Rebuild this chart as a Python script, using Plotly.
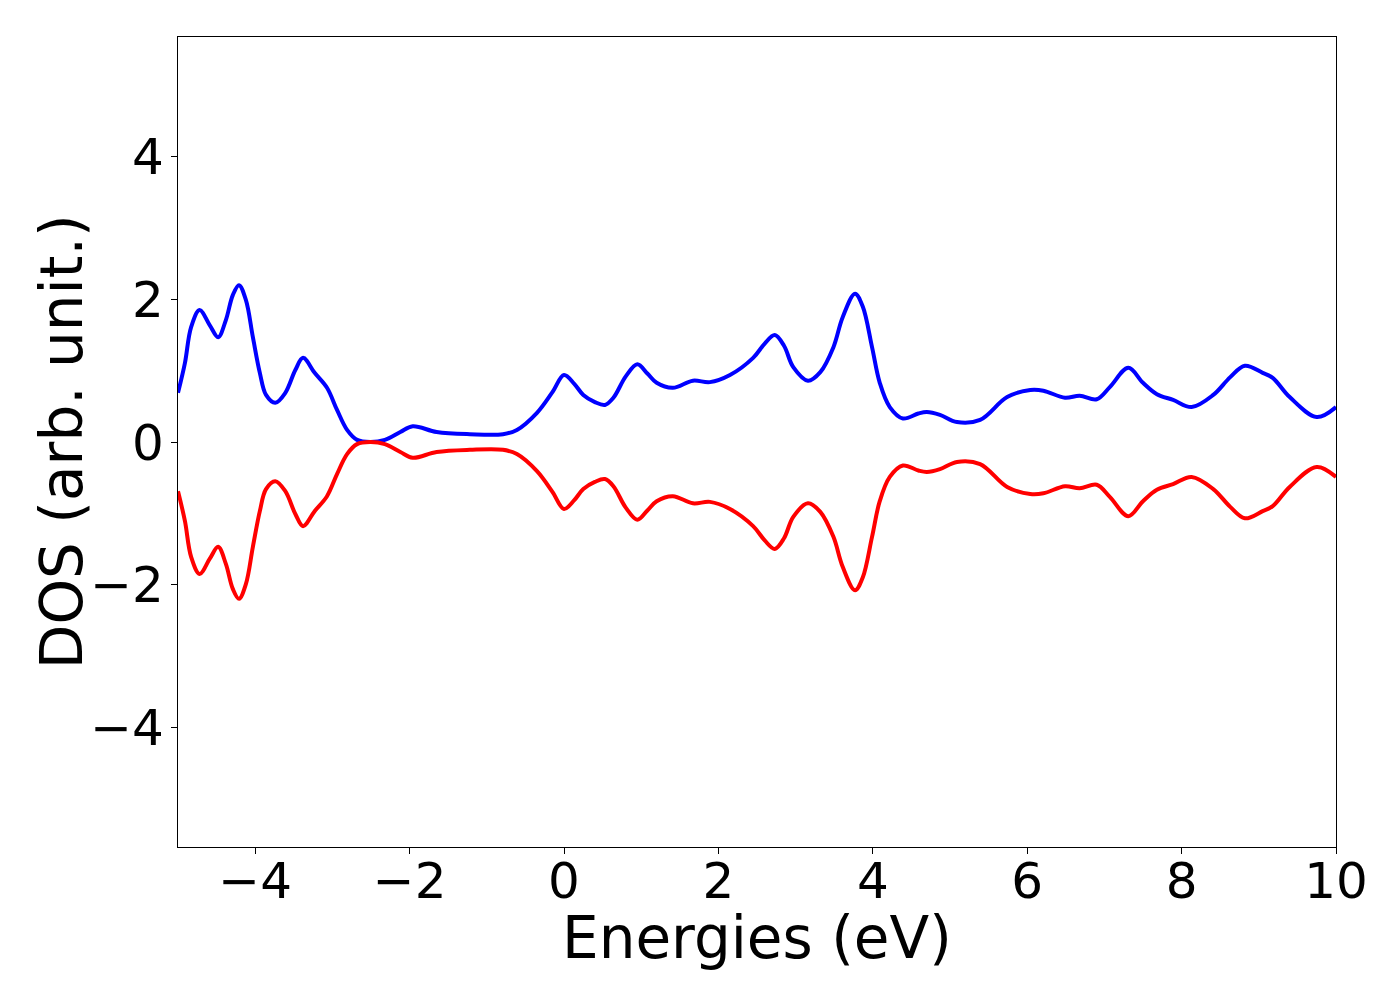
import plotly.graph_objects as go

energies = [-5.0, -4.91, -4.83, -4.72, -4.59, -4.48, -4.38, -4.29, -4.21, -4.12, -4.03, -3.94,
            -3.86, -3.74, -3.61, -3.48, -3.38, -3.23, -3.07, -2.94, -2.81, -2.68, -2.51, -2.32,
            -2.12, -1.96, -1.65, -1.22, -0.79, -0.61, -0.35, -0.15, 0.0, 0.13, 0.25, 0.40, 0.53,
            0.64, 0.80, 0.95, 1.08, 1.20, 1.41, 1.67, 1.89, 2.15, 2.45, 2.60, 2.73, 2.85, 2.97,
            3.16, 3.32, 3.49, 3.61, 3.77, 3.87, 3.99, 4.09, 4.22, 4.39, 4.59, 4.70, 4.87,
            5.09, 5.39, 5.74, 6.04, 6.21, 6.49, 6.68, 6.90, 7.07, 7.31, 7.50, 7.68, 7.89,
            8.13, 8.41, 8.63, 8.82, 9.05, 9.18, 9.40, 9.75, 10.0]
dos_up = [0.69, 1.11, 1.61, 1.85, 1.64, 1.47, 1.71, 2.06, 2.20, 1.99, 1.47, 0.97,
          0.66, 0.55, 0.69, 1.01, 1.18, 0.97, 0.76, 0.45, 0.17, 0.03, 0.0, 0.03,
          0.14, 0.22, 0.14, 0.11, 0.11, 0.17, 0.41, 0.70, 0.94, 0.82, 0.66, 0.56, 0.52,
          0.62, 0.92, 1.09, 0.96, 0.83, 0.76, 0.86, 0.84, 0.94, 1.18, 1.38, 1.50, 1.35, 1.05,
          0.86, 0.98, 1.33, 1.75, 2.08, 1.90, 1.33, 0.83, 0.49, 0.33, 0.40, 0.42, 0.38,
          0.28, 0.31, 0.63, 0.73, 0.72, 0.62, 0.65, 0.60, 0.77, 1.04, 0.83, 0.67, 0.59,
          0.49, 0.66, 0.91, 1.07, 0.97, 0.90, 0.63, 0.35, 0.49]
dos_down = [-v for v in dos_up]

x_ticks = [-4, -2, 0, 2, 4, 6, 8, 10]
y_ticks = [-4, -2, 0, 2, 4]
x_title = "Energies (eV)"
y_title = "DOS (arb. unit.)"

fig = go.Figure()
fig.add_trace(go.Scatter(x=energies, y=dos_up, mode="lines",
                         line=dict(color="#0000ff", width=4, shape="spline", smoothing=1.0),
                         showlegend=False))
fig.add_trace(go.Scatter(x=energies, y=dos_down, mode="lines",
                         line=dict(color="#ff0000", width=4, shape="spline", smoothing=1.0),
                         showlegend=False))

axis_common = dict(showline=True, linecolor="black", linewidth=1.3, mirror=True,
                   ticks="outside", ticklen=6, tickwidth=1.3, tickcolor="black",
                   showgrid=False, zeroline=False,
                   tickfont=dict(family="DejaVu Sans", size=50, color="black"))

fig.update_layout(
    width=1400, height=1000,
    paper_bgcolor="white", plot_bgcolor="white",
    margin=dict(l=170, r=72, t=29, b=161),
    font=dict(family="DejaVu Sans", color="black"),
    xaxis=dict(range=[-5, 10], tickvals=x_ticks, ticklabelstandoff=-16, **axis_common),
    yaxis=dict(range=[-5.68, 5.68], tickvals=y_ticks, ticklabelstandoff=-3, **axis_common),
    annotations=[
        dict(text=x_title, xref="paper", yref="paper", x=0.5, y=-0.112,
             xanchor="center", yanchor="middle", showarrow=False,
             font=dict(family="DejaVu Sans", size=58, color="black")),
        dict(text=y_title, xref="paper", yref="paper", x=-0.1, y=0.5, textangle=-90,
             xanchor="center", yanchor="middle", showarrow=False,
             font=dict(family="DejaVu Sans", size=58, color="black")),
    ],
)

fig.write_html("out.html")
